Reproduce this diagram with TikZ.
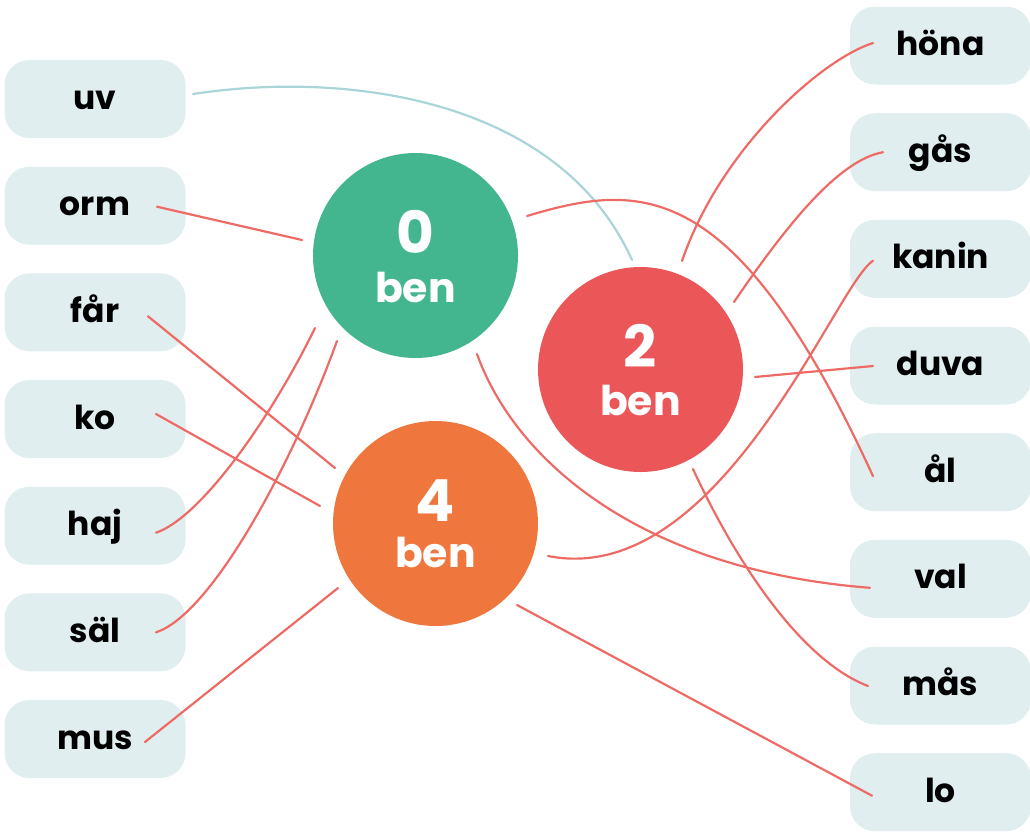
\documentclass[tikz,border=0pt]{standalone}
\usepackage{fontspec}
\setmainfont{Poppins}
\usetikzlibrary{calc}
\definecolor{boxfill}{HTML}{E0EEF0}
\definecolor{cgreen}{HTML}{44B68F}
\definecolor{cred}{HTML}{EB5659}
\definecolor{corange}{HTML}{EF763D}
\definecolor{lred}{HTML}{EE6B65}
\definecolor{lblue}{HTML}{A9D5D9}
\begin{document}
\begin{tikzpicture}[x=1pt,y=-1pt,
  lbl/.style={fill=boxfill, rounded corners=25pt, minimum width=181pt, minimum height=78pt,
    inner sep=0pt, text height=24pt, text depth=4pt, font=\fontsize{33}{33}\selectfont\bfseries},
  bigc/.style={circle, minimum size=205pt, inner sep=0pt},
  digit/.style={anchor=base, inner sep=0pt, text=white, font=\fontsize{58}{58}\selectfont\bfseries},
  bentext/.style={anchor=base, inner sep=0pt, text=white, font=\fontsize{41}{41}\selectfont\bfseries},
  conn/.style={draw=lred, line width=2.2pt, line cap=round},
  connb/.style={draw=lblue, line width=2.2pt, line cap=round}]
\useasboundingbox (0,0) rectangle (1030,835);
% left boxes
\node[lbl] (uv)   at (95,99)    {uv};
\node[lbl] (orm)  at (95,205.7) {orm};
\node[lbl] (far)  at (95,312.3) {får};
\node[lbl] (ko)   at (95,419)   {ko};
\node[lbl] (haj)  at (95,525.7) {haj};
\node[lbl] (sal)  at (95,632.3) {säl};
\node[lbl] (mus)  at (95,739)   {mus};
% right boxes
\node[lbl] (hona)  at (940.5,45.5)  {höna};
\node[lbl] (gas)   at (940.5,152.2) {gås};
\node[lbl] (kanin) at (940.5,258.8) {kanin};
\node[lbl] (duva)  at (940.5,365.5) {duva};
\node[lbl] (al)    at (940.5,472.2) {ål};
\node[lbl] (val)   at (940.5,578.8) {val};
\node[lbl] (mas)   at (940.5,685.5) {mås};
\node[lbl] (lo)    at (940.5,792.2) {lo};
% circles
\node[bigc, fill=cgreen]  (c0) at (415.5,255.5) {};
\node[bigc, fill=cred]    (c2) at (640.5,369.5) {};
\node[bigc, fill=corange] (c4) at (435.5,523.5) {};
\node[digit]   (d0) at ($(c0.center)+(0,-2.5)$) {0};
\node[bentext] (b0) at ($(c0.center)+(0,46.5)$) {ben};
\node[digit]   (d2) at ($(c2.center)+(0,-2.5)$) {2};
\node[bentext] (b2) at ($(c2.center)+(0,45.5)$) {ben};
\node[digit]   (d4) at ($(c4.center)+(0,-2.5)$) {4};
\node[bentext] (b4) at ($(c4.center)+(0,44)$) {ben};
% connectors
\draw[connb] ($(uv.center)+(98,-5)$) .. controls (350,70) and (560,100) .. ($(c2.center)+(-8.5,-109.5)$);
\draw[conn] ($(orm.center)+(62,1)$) -- ($(c0.center)+(-113.5,-15.5)$);
\draw[conn] ($(far.center)+(53,4)$) -- ($(c4.center)+(-100.5,-55.5)$);
\draw[conn] ($(ko.center)+(61,-5)$) -- ($(c4.center)+(-115.5,-17.5)$);
\draw[conn] ($(haj.center)+(61,7)$) .. controls (200,518) and (270,420) .. ($(c0.center)+(-100.5,72.5)$);
\draw[conn] ($(sal.center)+(61,0)$) .. controls (210,615) and (290,470) .. ($(c0.center)+(-78.5,85.5)$);
\draw[conn] ($(mus.center)+(50,3)$) -- ($(c4.center)+(-97.5,64.5)$);
\draw[conn] ($(hona.center)+(-67.5,-2.5)$) .. controls (820,60) and (720,150) .. ($(c2.center)+(41.5,-108.5)$);
\draw[conn] ($(gas.center)+(-57.5,0)$) .. controls (840,160) and (790,220) .. ($(c2.center)+(93.5,-67.5)$);
\draw[conn] ($(kanin.center)+(-67.5,2)$) .. controls (835,285) and (720,590) .. ($(c4.center)+(112.5,32.5)$);
\draw[conn] ($(duva.center)+(-67.5,0.5)$) -- ($(c2.center)+(114.5,7.5)$);
\draw[conn] ($(al.center)+(-67.5,4)$) .. controls (735,175) and (640,182) .. ($(c0.center)+(111.5,-39.5)$);
\draw[conn] ($(val.center)+(-70.5,9)$) .. controls (640,570) and (515,460) .. ($(c0.center)+(61.5,98.5)$);
\draw[conn] ($(mas.center)+(-72.5,0.5)$) .. controls (800,660) and (735,560) .. ($(c2.center)+(52.5,99.5)$);
\draw[conn] ($(lo.center)+(-68.5,3.5)$) -- ($(c4.center)+(81.5,81.5)$);
\end{tikzpicture}
\end{document}
